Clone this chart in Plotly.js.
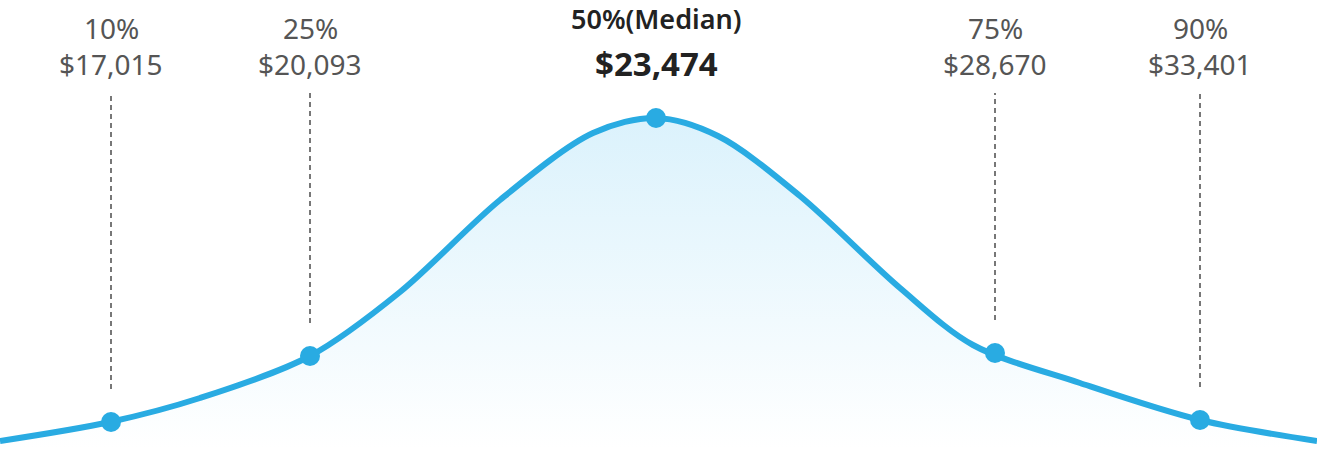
<!DOCTYPE html>
<html>
<head>
<meta charset="utf-8">
<script src="https://cdn.plot.ly/plotly-3.0.1.min.js"></script>
<style>html,body{margin:0;padding:0;background:#fff;}#chart{width:1317px;height:449px;}</style>
</head>
<body>
<div id="chart"></div>
<script>
// Percentile labels and salaries
const percentiles = ['10%', '25%', '50%(Median)', '75%', '90%'];
const salaries = ['$17,015', '$20,093', '$23,474', '$28,670', '$33,401'];
// Marker positions on the distribution curve (display units)
const markerX = [111, 310, 656, 995, 1200];
const markerY = [27, 93, 331, 96, 29];
// Distribution curve (display units)
const curveX = [0, 110, 200, 310, 400, 500, 593, 656, 718, 800, 900, 973, 1080, 1200, 1317];
const curveY = [8, 27, 51, 93, 157, 249, 316, 331, 313, 253, 161, 104, 66, 29, 8];

const blue = '#29abe2';

const traces = [
  {
    x: curveX, y: curveY, type: 'scatter', mode: 'lines',
    line: {color: blue, width: 6, shape: 'spline', smoothing: 0.9},
    fill: 'tozeroy',
    fillgradient: {type: 'vertical', start: 0, stop: 331,
      colorscale: [[0, 'rgba(255,255,255,1)'], [1, 'rgb(219,242,252)']]},
    hoverinfo: 'skip', showlegend: false
  },
  {
    x: markerX, y: markerY, type: 'scatter', mode: 'markers',
    marker: {color: blue, size: 20},
    hoverinfo: 'skip', showlegend: false
  }
];

const shapes = [];
const annotations = [];
const medianIdx = 2;
for (let i = 0; i < percentiles.length; i++) {
  if (i !== medianIdx) {
    shapes.push({type: 'line', xref: 'x', yref: 'y', x0: markerX[i], x1: markerX[i],
      y0: markerY[i] + 33, y1: 356, line: {color: '#777', width: 2, dash: '5px,4px'}});
    annotations.push({x: markerX[i], y: 421, xref: 'x', yref: 'y', text: percentiles[i], showarrow: false,
      font: {family: 'Noto Sans', size: 28, color: '#555'}});
    annotations.push({x: markerX[i], y: 385, xref: 'x', yref: 'y', text: salaries[i], showarrow: false,
      font: {family: 'Noto Sans', size: 28, color: '#555'}});
  } else {
    annotations.push({x: markerX[i], y: 431, xref: 'x', yref: 'y', text: percentiles[i], showarrow: false,
      font: {family: 'Noto Sans', size: 27, color: '#222', weight: 600}});
    annotations.push({x: markerX[i], y: 386, xref: 'x', yref: 'y', text: '<b>' + salaries[i] + '</b>', showarrow: false,
      font: {family: 'Noto Sans', size: 33, color: '#222'}});
  }
}

const layout = {
  width: 1317, height: 449,
  margin: {l: 0, r: 0, t: 0, b: 0},
  paper_bgcolor: '#fff', plot_bgcolor: '#fff',
  xaxis: {range: [0, 1317], visible: false, fixedrange: true},
  yaxis: {range: [0, 449], visible: false, fixedrange: true},
  shapes: shapes, annotations: annotations, showlegend: false
};

Plotly.newPlot('chart', traces, layout, {displayModeBar: false, staticPlot: true});
</script>
</body>
</html>
